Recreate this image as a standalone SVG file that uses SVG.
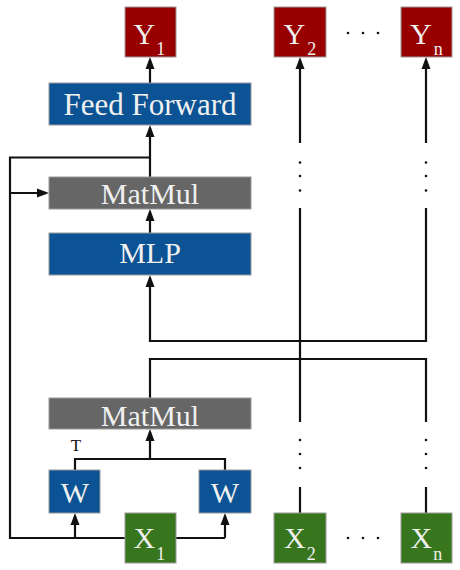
<svg xmlns="http://www.w3.org/2000/svg" width="460" height="570" viewBox="0 0 460 570">
<style>
.box{stroke:#9a9a9a;stroke-width:1}
.red{fill:#980000}.blue{fill:#0b5394}.gray{fill:#666666}.green{fill:#38761d}
.lbl{font-family:"Liberation Serif","Times New Roman",serif;fill:#f0f0f0}
.big{font-size:30px}
.sub{font-size:18px}
.ln{fill:none;stroke:#111;stroke-width:2.2}
.dot{fill:#111}
</style>
<defs>
<marker id="ah" markerUnits="userSpaceOnUse" markerWidth="12" markerHeight="10" viewBox="0 0 12 10" refX="9" refY="5" orient="auto">
<path d="M0,0.5 L12,5 L0,9.5 z" fill="#111"/>
</marker>
</defs>
<rect width="460" height="570" fill="#ffffff"/>

<g id="connectors">
<line class="ln" x1="150" y1="83" x2="150" y2="60" marker-end="url(#ah)"/>
<line class="ln" x1="150" y1="177" x2="150" y2="128" marker-end="url(#ah)"/>
<line class="ln" x1="150" y1="233" x2="150" y2="212" marker-end="url(#ah)"/>
<path class="ln" d="M150,157.5 H10 V538 H125"/>
<line class="ln" x1="10" y1="193" x2="46" y2="193" marker-end="url(#ah)"/>
<path class="ln" d="M426,208 V341 H150 V278" marker-end="url(#ah)"/>
<path class="ln" d="M150,398 V359 H426 V422"/>
<path class="ln" d="M75,470 V459 H225 V470"/>
<line class="ln" x1="150" y1="459" x2="150" y2="432" marker-end="url(#ah)"/>
<path class="ln" d="M176,538 H225"/>
<line class="ln" x1="75" y1="538" x2="75" y2="516" marker-end="url(#ah)"/>
<line class="ln" x1="225" y1="538" x2="225" y2="516" marker-end="url(#ah)"/>
<line class="ln" x1="300" y1="143" x2="300" y2="60" marker-end="url(#ah)"/>
<line class="ln" x1="300" y1="208" x2="300" y2="422"/>
<line class="ln" x1="300" y1="487" x2="300" y2="513"/>
<line class="ln" x1="426" y1="143" x2="426" y2="60" marker-end="url(#ah)"/>
<line class="ln" x1="426" y1="487" x2="426" y2="513"/>
<circle class="dot" cx="300" cy="162.5" r="1.3"/><circle class="dot" cx="300" cy="176" r="1.3"/><circle class="dot" cx="300" cy="190.5" r="1.3"/>
<circle class="dot" cx="426" cy="162.5" r="1.3"/><circle class="dot" cx="426" cy="176" r="1.3"/><circle class="dot" cx="426" cy="190.5" r="1.3"/>
<circle class="dot" cx="300" cy="440" r="1.3"/><circle class="dot" cx="300" cy="454" r="1.3"/><circle class="dot" cx="300" cy="468" r="1.3"/>
<circle class="dot" cx="426" cy="440" r="1.3"/><circle class="dot" cx="426" cy="454" r="1.3"/><circle class="dot" cx="426" cy="468" r="1.3"/>
<circle class="dot" cx="348" cy="33" r="1.3"/><circle class="dot" cx="363" cy="33" r="1.3"/><circle class="dot" cx="378" cy="33" r="1.3"/>
<circle class="dot" cx="348" cy="538" r="1.3"/><circle class="dot" cx="363" cy="538" r="1.3"/><circle class="dot" cx="378" cy="538" r="1.3"/>
<text x="76" y="450.5" font-family="Liberation Serif, Times New Roman, serif" font-size="17" fill="#111" text-anchor="middle">T</text>
</g>

<g id="Y1"><rect class="box red" x="125" y="7" width="51" height="50"/><text class="lbl big" x="133.5" y="43.5">Y<tspan class="sub" dx="1" dy="11.5">1</tspan></text></g>
<g id="Y2"><rect class="box red" x="274" y="7" width="52" height="50"/><text class="lbl big" x="283.5" y="43.5">Y<tspan class="sub" dx="2" dy="11.5">2</tspan></text></g>
<g id="Yn"><rect class="box red" x="401" y="7" width="51" height="50"/><text class="lbl big" x="410" y="43.5">Y<tspan class="sub" dx="2" dy="11.5">n</tspan></text></g>

<g id="feedforward"><rect class="box blue" x="49" y="83" width="202" height="42"/><text class="lbl" x="150" y="115" font-size="31" text-anchor="middle">Feed Forward</text></g>
<g id="matmul1"><rect class="box gray" x="49" y="177" width="202" height="32"/><text class="lbl big" x="150" y="204" text-anchor="middle">MatMul</text></g>
<g id="mlp"><rect class="box blue" x="49" y="233" width="202" height="42"/><text class="lbl big" x="150" y="263" text-anchor="middle">MLP</text></g>
<g id="matmul2"><rect class="box gray" x="49" y="398" width="202" height="31"/><text class="lbl big" x="150" y="425.5" text-anchor="middle">MatMul</text></g>
<g id="W1"><rect class="box blue" x="49" y="470" width="51" height="43"/><text class="lbl big" x="75" y="502.5" text-anchor="middle">W</text></g>
<g id="W2"><rect class="box blue" x="199" y="470" width="52" height="43"/><text class="lbl big" x="225" y="502.5" text-anchor="middle">W</text></g>

<g id="X1"><rect class="box green" x="125" y="513" width="51" height="50"/><text class="lbl big" x="133.5" y="548">X<tspan class="sub" dx="1" dy="12">1</tspan></text></g>
<g id="X2"><rect class="box green" x="274" y="513" width="52" height="50"/><text class="lbl big" x="284" y="548">X<tspan class="sub" dx="1" dy="12">2</tspan></text></g>
<g id="Xn"><rect class="box green" x="401" y="513" width="51" height="50"/><text class="lbl big" x="410.5" y="548">X<tspan class="sub" dx="1" dy="12">n</tspan></text></g>
</svg>
